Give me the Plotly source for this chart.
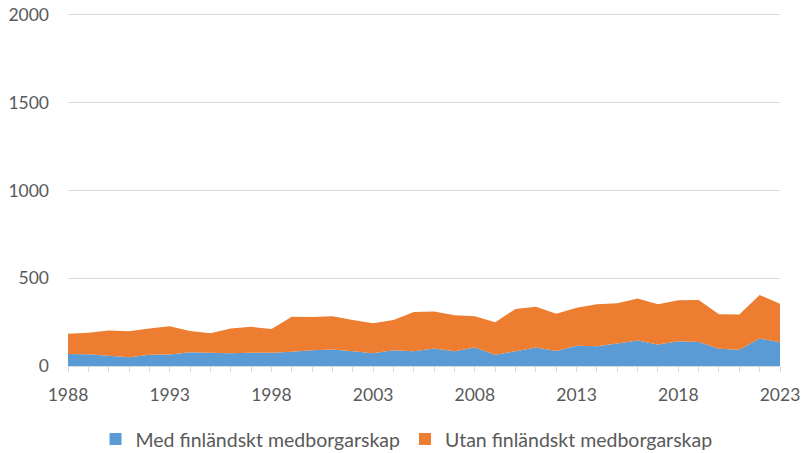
import plotly.graph_objects as go

years = list(range(1988, 2024))
total = [183, 189, 202, 198, 213, 226, 200, 186, 213, 223, 211, 281,
         279, 283, 262, 243, 262, 308, 311, 289, 283, 249, 325, 338,
         298, 332, 351, 357, 385, 351, 374, 376, 294, 293, 404, 355]
med = [69, 67, 58, 50, 64, 65, 78, 75, 73, 75, 75, 81,
       90, 94, 84, 73, 90, 84, 99, 84, 105, 64, 84, 105,
       86, 115, 112, 128, 145, 122, 141, 137, 98, 92, 156, 135]
utan = [t - m for t, m in zip(total, med)]
names = ["Med finländskt medborgarskap", "Utan finländskt medborgarskap"]
colors = ["#5B9BD5", "#ED7D31"]
y_ticks = [0, 500, 1000, 1500, 2000]

fig = go.Figure()
for vals, name, col in zip([med, utan], names, colors):
    fig.add_trace(go.Scatter(x=years, y=vals, name=name, stackgroup="one",
                             mode="none", fillcolor=col, showlegend=False))
for name, col in zip(names, colors):
    fig.add_trace(go.Scatter(x=[None], y=[None], name=name, mode="markers",
                             marker=dict(symbol="square", size=12, color=col)))

fig.update_layout(
    width=805, height=453,
    margin=dict(l=68, r=25, t=13.3, b=86.5),
    plot_bgcolor="white", paper_bgcolor="white",
    font=dict(family="Lato, Open Sans, sans-serif", size=17.5, color="#595959"),
    legend=dict(orientation="h", xref="container", x=0.505, xanchor="center",
                yref="container", y=0.03, yanchor="middle",
                font=dict(size=19.5, color="#595959"), itemwidth=30,
                traceorder="normal", tracegroupgap=0),
    showlegend=True,
)
fig.update_xaxes(range=[1988, 2023], tickmode="array",
                 tickvals=list(range(1988, 2024, 5)), automargin=False,
                 showline=True, linecolor="#d9d9d9", linewidth=1,
                 ticks="outside", ticklen=5, tickcolor="#d9d9d9",
                 minor=dict(ticks="outside", ticklen=5, tickcolor="#d9d9d9", dtick=1, tick0=1988),
                 showgrid=False, zeroline=False, ticklabelstandoff=8)
fig.update_yaxes(range=[0, 2010], tickvals=y_ticks,
                 showgrid=True, gridcolor="#d9d9d9",
                 gridwidth=1, zeroline=False, showline=False, automargin=False,
                 ticklabelstandoff=18)
fig.write_html("out.html", config={"displayModeBar": False},
               post_script="document.body.style.margin='0';document.body.style.padding='0';")
